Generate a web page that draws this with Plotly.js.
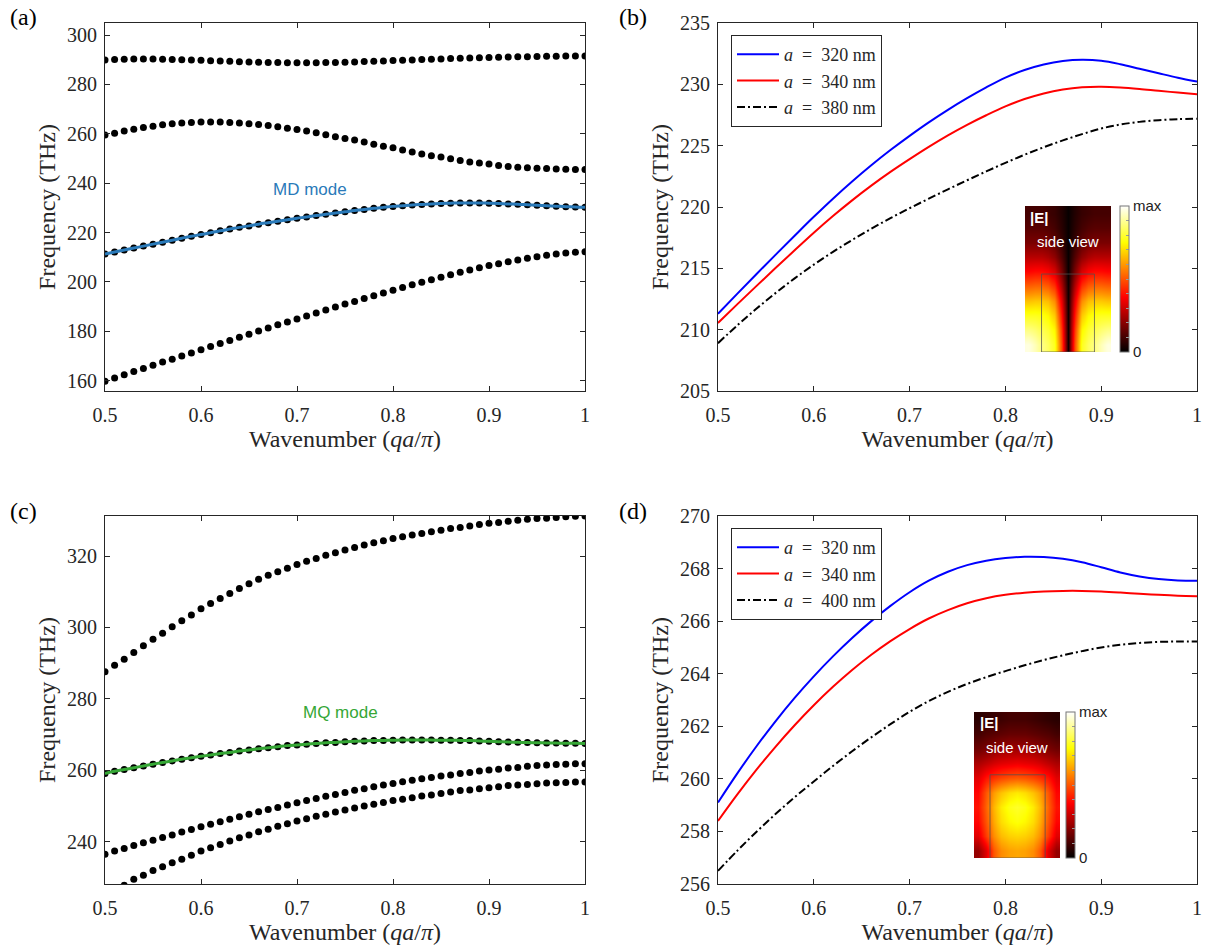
<!DOCTYPE html>
<html>
<head>
<meta charset="utf-8">
<script src="https://cdn.plot.ly/plotly-3.0.1.min.js"></script>
<style>html,body{margin:0;padding:0;background:#fff}#chart{width:1214px;height:948px}</style>
</head>
<body>
<div id="chart"></div>
<script>
// ---------- data ----------
const qx = [0.50,0.51,0.52,0.53,0.54,0.55,0.56,0.57,0.58,0.59,0.60,0.61,0.62,0.63,0.64,0.65,0.66,0.67,0.68,0.69,0.70,0.71,0.72,0.73,0.74,0.75,0.76,0.77,0.78,0.79,0.80,0.81,0.82,0.83,0.84,0.85,0.86,0.87,0.88,0.89,0.90,0.91,0.92,0.93,0.94,0.95,0.96,0.97,0.98,0.99,1.00];

// panel (a) bands
const bandA1 = [289.9,290.1,290.2,290.3,290.3,290.3,290.2,290.1,290.0,289.9,289.8,289.6,289.5,289.4,289.2,289.1,289.0,288.9,288.9,288.8,288.8,288.8,288.8,288.9,288.9,289.0,289.1,289.3,289.4,289.5,289.7,289.8,289.9,290.1,290.2,290.3,290.5,290.6,290.7,290.8,290.9,291.0,291.1,291.2,291.2,291.3,291.4,291.4,291.5,291.5,291.5];
const bandA2 = [259.5,260.2,261.1,261.9,262.6,263.1,263.7,264.1,264.4,264.6,264.8,264.8,264.8,264.6,264.4,264.1,263.8,263.4,262.9,262.3,261.8,261.1,260.4,259.6,258.8,258.1,257.5,256.7,255.8,255.0,254.4,253.4,252.6,251.8,251.1,250.6,249.9,249.2,248.6,248.2,247.8,247.2,246.8,246.5,246.3,246.0,245.9,245.7,245.6,245.5,245.5];
const bandMD = [211.3,212.1,212.9,213.7,214.5,215.3,216.1,216.9,217.7,218.5,219.2,219.9,220.7,221.4,222.1,222.7,223.4,224.0,224.6,225.2,225.8,226.3,226.9,227.4,227.9,228.4,228.9,229.3,229.8,230.2,230.6,230.9,231.2,231.4,231.6,231.8,231.9,232.0,232.0,232.0,231.9,231.8,231.6,231.5,231.3,231.1,230.9,230.7,230.5,230.4,230.2];
const bandA4 = [159.8,161.1,162.4,163.7,164.9,166.2,167.5,168.7,170.0,171.2,172.5,173.8,175.0,176.3,177.6,178.8,180.1,181.3,182.6,183.8,185.0,186.2,187.4,188.6,189.8,191.0,192.1,193.3,194.4,195.5,196.6,197.7,198.8,199.9,200.9,201.9,202.9,203.9,204.8,205.7,206.6,207.4,208.2,208.9,209.6,210.2,210.8,211.3,211.7,212.0,212.2];

// panel (c) bands
const bandC1 = [287.6,289.4,291.1,293.0,294.9,296.7,298.4,300.2,301.9,303.5,305.2,306.7,308.1,309.5,310.9,312.2,313.5,314.6,315.6,316.6,317.6,318.5,319.3,320.2,320.9,321.7,322.4,323.1,323.7,324.3,324.9,325.4,325.9,326.3,326.8,327.2,327.7,328.0,328.4,328.8,329.2,329.4,329.7,330.0,330.3,330.5,330.6,330.8,331.0,331.1,331.2];
const bandMQ = [259.1,259.7,260.2,260.7,261.2,261.7,262.2,262.6,263.1,263.5,263.9,264.3,264.7,265.0,265.4,265.7,266.0,266.3,266.6,266.9,267.1,267.3,267.5,267.7,267.8,268.0,268.1,268.2,268.3,268.35,268.4,268.45,268.45,268.45,268.45,268.4,268.4,268.35,268.3,268.2,268.1,268.0,267.9,267.85,267.75,267.7,267.65,267.6,267.55,267.55,267.5];
const bandC3 = [236.5,237.4,238.1,238.9,239.7,240.4,241.2,241.9,242.7,243.4,244.2,244.9,245.6,246.3,247.0,247.7,248.4,249.0,249.6,250.3,250.9,251.5,252.1,252.7,253.2,253.8,254.4,254.8,255.4,255.9,256.3,256.8,257.2,257.6,258.0,258.4,258.7,259.1,259.4,259.8,260.1,260.3,260.6,260.8,261.1,261.3,261.5,261.6,261.7,261.8,261.8];
const bandC4 = [225.6,226.7,227.8,229.5,230.6,231.9,233.0,234.1,235.1,236.2,237.4,238.3,239.2,240.2,241.1,241.9,242.8,243.5,244.3,245.0,245.8,246.4,247.1,247.7,248.3,248.9,249.4,250.0,250.5,251.0,251.5,251.9,252.3,252.8,253.1,253.5,253.9,254.3,254.5,254.8,255.1,255.4,255.7,255.9,256.0,256.2,256.4,256.5,256.6,256.7,256.7];

// panels (b) and (d): curves for different lattice constants
const sx = [0.50,0.52,0.54,0.56,0.58,0.60,0.62,0.64,0.66,0.68,0.70,0.72,0.74,0.76,0.78,0.80,0.82,0.84,0.86,0.88,0.90,0.92,0.94,0.96,0.98,1.00];
const legendB = ['<i>a</i>\u2002=\u2002320 nm','<i>a</i>\u2002=\u2002340 nm','<i>a</i>\u2002=\u2002380 nm'];
const legendD = ['<i>a</i>\u2002=\u2002320 nm','<i>a</i>\u2002=\u2002340 nm','<i>a</i>\u2002=\u2002400 nm'];
const b320 = [211.30,212.92,214.52,216.10,217.66,219.20,220.68,222.08,223.40,224.64,225.80,226.90,227.92,228.87,229.75,230.55,231.17,231.62,231.90,232.00,231.92,231.64,231.27,230.90,230.54,230.22];
const b340 = [210.55,212.06,213.55,215.02,216.47,217.90,219.26,220.54,221.74,222.86,223.90,224.90,225.84,226.70,227.48,228.20,228.80,229.26,229.58,229.76,229.80,229.74,229.62,229.47,229.33,229.20];
const b380 = [208.90,210.34,211.70,212.98,214.18,215.30,216.34,217.31,218.23,219.09,219.90,220.68,221.44,222.18,222.90,223.60,224.26,224.87,225.43,225.94,226.40,226.72,226.94,227.08,227.16,227.20];
const d320 = [259.10,260.20,261.23,262.19,263.08,263.90,264.66,265.36,266.00,266.58,267.10,267.54,267.88,268.13,268.30,268.40,268.45,268.44,268.37,268.24,268.05,267.85,267.70,267.60,267.55,267.54];
const d340 = [258.40,259.40,260.34,261.22,262.04,262.80,263.50,264.14,264.72,265.24,265.70,266.10,266.42,266.68,266.87,267.00,267.08,267.13,267.15,267.15,267.13,267.09,267.04,267.00,266.97,266.95];
const d400 = [256.50,257.26,257.98,258.66,259.30,259.90,260.49,261.05,261.58,262.08,262.55,262.96,263.31,263.61,263.87,264.10,264.32,264.52,264.70,264.86,265.00,265.10,265.17,265.21,265.225,265.23];

// insets: |E| side-view field maps (normalised 0..1, rows top -> bottom)
const fieldMD = [
 [.10,.10,.10,.09,.08,.05,.01,.05,.08,.09,.10,.10,.10],
 [.13,.13,.13,.12,.10,.06,.01,.06,.10,.12,.13,.13,.13],
 [.18,.18,.18,.17,.14,.08,.01,.08,.14,.17,.18,.18,.18],
 [.27,.27,.27,.25,.21,.12,.01,.12,.21,.25,.27,.27,.27],
 [.38,.39,.39,.37,.32,.18,.01,.18,.32,.37,.39,.39,.38],
 [.52,.53,.53,.51,.45,.26,.02,.26,.45,.51,.53,.53,.52],
 [.66,.67,.67,.65,.58,.34,.02,.34,.58,.65,.67,.67,.66],
 [.78,.78,.77,.74,.67,.40,.02,.40,.67,.74,.77,.78,.78],
 [.88,.86,.83,.80,.74,.45,.02,.45,.74,.80,.83,.86,.88],
 [.97,.93,.88,.84,.78,.48,.02,.48,.78,.84,.88,.93,.97]
];
const fieldMQ = [
 [.06,.07,.08,.09,.10,.10,.10,.09,.08,.07,.06],
 [.10,.12,.13,.14,.15,.15,.15,.14,.13,.12,.10],
 [.16,.18,.20,.22,.23,.23,.23,.22,.20,.18,.16],
 [.25,.28,.31,.33,.34,.35,.34,.33,.31,.28,.25],
 [.33,.40,.44,.47,.49,.50,.49,.47,.44,.40,.33],
 [.38,.50,.60,.66,.70,.72,.70,.66,.60,.50,.38],
 [.40,.52,.64,.72,.77,.79,.77,.72,.64,.52,.40],
 [.38,.50,.62,.70,.74,.76,.74,.70,.62,.50,.38],
 [.33,.46,.58,.65,.68,.69,.68,.65,.58,.46,.33],
 [.22,.33,.50,.58,.61,.62,.61,.58,.50,.33,.22]
];
const cbTicks = [0,0.1,0.2,0.3,0.4,0.5,0.6,0.7,0.8,0.9,1];
const cbText = ['0','','','','','','','','','','max'];

// ---------- styling ----------
const SERIF = 'Liberation Serif, Times New Roman, serif';
const SANS = 'Liberation Sans, Arial, sans-serif';
const AX = '#262626';
const W = 1214, H = 948;
const px = v => v / W;
const py = v => (H - v) / H;
const hot = [[0,'#000000'],[0.375,'#ff0000'],[0.75,'#ffff00'],[1,'#ffffff']];
const mdBlue = '#2a7ab9', mqGreen = '#36a736';

function dots(y, xa, ya) {
  return {x: qx, y: y, xaxis: xa, yaxis: ya, type: 'scatter', mode: 'markers',
    marker: {color: '#000', size: 7}, showlegend: false, hoverinfo: 'skip'};
}
function curve(y, name, color, dash, xa, ya, leg) {
  return {x: sx, y: y, xaxis: xa, yaxis: ya, type: 'scatter', mode: 'lines', name: name,
    line: {color: color, width: 2, dash: dash, shape: 'spline'}, legend: leg};
}
function modeLine(y, color, xa, ya) {
  return {x: qx, y: y, xaxis: xa, yaxis: ya, mode: 'lines', line: {color: color, width: 3, shape: 'spline'},
    showlegend: false, hoverinfo: 'skip'};
}

const traces = [
  dots(bandA1, 'x', 'y'), dots(bandA2, 'x', 'y'), dots(bandMD, 'x', 'y'), dots(bandA4, 'x', 'y'),
  modeLine(bandMD, mdBlue, 'x', 'y'),
  curve(b320, legendB[0], '#0000ff', 'solid', 'x2', 'y2', 'legend'),
  curve(b340, legendB[1], '#ff0000', 'solid', 'x2', 'y2', 'legend'),
  curve(b380, legendB[2], '#000000', '8px,3px,2px,3px', 'x2', 'y2', 'legend'),
  dots(bandC1, 'x5', 'y5'), dots(bandMQ, 'x5', 'y5'), dots(bandC3, 'x5', 'y5'), dots(bandC4, 'x5', 'y5'),
  modeLine(bandMQ, mqGreen, 'x5', 'y5'),
  curve(d320, legendD[0], '#0000ff', 'solid', 'x6', 'y6', 'legend2'),
  curve(d340, legendD[1], '#ff0000', 'solid', 'x6', 'y6', 'legend2'),
  curve(d400, legendD[2], '#000000', '8px,3px,2px,3px', 'x6', 'y6', 'legend2'),
  {z: fieldMD, type: 'heatmap', xaxis: 'x3', yaxis: 'y3', zmin: 0, zmax: 1, zsmooth: 'best', colorscale: hot,
   hoverinfo: 'skip', showlegend: false,
   colorbar: {x: px(1120), xanchor: 'left', xpad: 0, y: py(206), yanchor: 'top', ypad: 0,
     len: 146, lenmode: 'pixels', thickness: 9, thicknessmode: 'pixels',
     outlinewidth: 1, outlinecolor: '#777', tickvals: cbTicks, ticktext: cbText,
     ticks: 'inside', ticklen: 3, tickcolor: '#999', tickfont: {family: SANS, size: 15, color: '#222'}}},
  {z: fieldMQ, type: 'heatmap', xaxis: 'x4', yaxis: 'y4', zmin: 0, zmax: 1, zsmooth: 'best', colorscale: hot,
   hoverinfo: 'skip', showlegend: false,
   colorbar: {x: px(1066), xanchor: 'left', xpad: 0, y: py(712), yanchor: 'top', ypad: 0,
     len: 146, lenmode: 'pixels', thickness: 9, thicknessmode: 'pixels',
     outlinewidth: 1, outlinecolor: '#777', tickvals: cbTicks, ticktext: cbText,
     ticks: 'inside', ticklen: 3, tickcolor: '#999', tickfont: {family: SANS, size: 15, color: '#222'}}}
];

function xAxis(domain, anchor) {
  return {domain: domain, anchor: anchor, range: [0.5, 1], dtick: 0.1, tick0: 0.5,
    showgrid: false, zeroline: false, showline: true, mirror: 'ticks', ticks: 'inside', ticklen: 5,
    tickcolor: AX, linecolor: AX, linewidth: 1, ticklabelstandoff: 6,
    tickfont: {family: SERIF, size: 20, color: AX},
    title: {text: 'Wavenumber (<i>qa</i>/<i>π</i>)', font: {family: SERIF, size: 24, color: AX}, standoff: 4}};
}
function yAxis(domain, anchor, range, dtick) {
  return {domain: domain, anchor: anchor, range: range, dtick: dtick,
    showgrid: false, zeroline: false, showline: true, mirror: 'ticks', ticks: 'inside', ticklen: 5,
    tickcolor: AX, linecolor: AX, linewidth: 1, ticklabelstandoff: 3,
    tickfont: {family: SERIF, size: 20, color: AX},
    title: {text: 'Frequency (THz)', font: {family: SERIF, size: 24, color: AX}, standoff: 4}};
}
const hidden = (domain, anchor, range) => ({domain: domain, anchor: anchor, range: range, visible: false, fixedrange: true});

const LX = [px(105), px(585)], RX = [px(718), px(1197)];
const TY = [py(391), py(23)], BY = [py(884), py(516)];

const legendStyle = y => ({x: px(731), xanchor: 'left', y: y, yanchor: 'top', xref: 'paper', yref: 'paper',
  bgcolor: '#fff', bordercolor: AX, borderwidth: 1, itemwidth: 42,
  font: {family: SERIF, size: 18, color: AX}, tracegroupgap: 0});

const panelLabel = (t, x, y) => ({text: t, xref: 'paper', yref: 'paper', x: px(x), y: py(y),
  xanchor: 'center', yanchor: 'middle', showarrow: false, font: {family: SERIF, size: 24, color: '#000'}});

const layout = {
  width: W, height: H, margin: {l: 0, r: 0, t: 0, b: 0},
  paper_bgcolor: '#fff', plot_bgcolor: 'rgba(0,0,0,0)',
  showlegend: true,
  xaxis: xAxis(LX, 'y'), yaxis: yAxis(TY, 'x', [155.8, 304.9], 20),
  xaxis2: xAxis(RX, 'y2'), yaxis2: yAxis(TY, 'x2', [205, 235], 5),
  xaxis5: xAxis(LX, 'y5'), yaxis5: yAxis(BY, 'x5', [228.15, 331.2], 20),
  xaxis6: xAxis(RX, 'y6'), yaxis6: yAxis(BY, 'x6', [256, 270], 2),
  xaxis3: hidden([px(1025), px(1111)], 'y3', [-0.5, 12.5]),
  yaxis3: hidden([py(352), py(206)], 'x3', [9.5, -0.5]),
  xaxis4: hidden([px(974), px(1060)], 'y4', [-0.5, 10.5]),
  yaxis4: hidden([py(858), py(712)], 'x4', [9.5, -0.5]),
  legend: legendStyle(py(35)),
  legend2: legendStyle(py(528)),
  shapes: [
    {type: 'rect', xref: 'x3', yref: 'y3', x0: 2.0, x1: 10.0, y0: 4.16, y1: 9.5, line: {color: 'rgba(80,80,80,0.75)', width: 1}},
    {type: 'rect', xref: 'x4', yref: 'y4', x0: 1.55, x1: 8.6, y0: 3.8, y1: 9.5, line: {color: 'rgba(80,80,80,0.75)', width: 1}}
  ],
  annotations: [
    panelLabel('(a)', 23, 17), panelLabel('(b)', 633, 17),
    panelLabel('(c)', 23, 511), panelLabel('(d)', 633, 511),
    {text: 'MD mode', xref: 'x', yref: 'y', x: 0.7135, y: 237.4, showarrow: false, font: {family: SANS, size: 17, color: mdBlue}},
    {text: 'MQ mode', xref: 'x5', yref: 'y5', x: 0.745, y: 276.2, showarrow: false, font: {family: SANS, size: 17, color: mqGreen}},
    {text: '<b>|E|</b>', xref: 'x3 domain', yref: 'y3 domain', x: 0.04, y: 0.92, xanchor: 'left', yanchor: 'middle', showarrow: false, font: {family: SANS, size: 15, color: '#fff'}},
    {text: 'side view', xref: 'x3 domain', yref: 'y3 domain', x: 0.5, y: 0.76, xanchor: 'center', yanchor: 'middle', showarrow: false, font: {family: SANS, size: 15, color: '#fff'}},
    {text: '<b>|E|</b>', xref: 'x4 domain', yref: 'y4 domain', x: 0.05, y: 0.925, xanchor: 'left', yanchor: 'middle', showarrow: false, font: {family: SANS, size: 15, color: '#fff'}},
    {text: 'side view', xref: 'x4 domain', yref: 'y4 domain', x: 0.5, y: 0.76, xanchor: 'center', yanchor: 'middle', showarrow: false, font: {family: SANS, size: 15, color: '#fff'}}
  ]
};

Plotly.newPlot('chart', traces, layout, {displayModeBar: false, staticPlot: true});
</script>
</body>
</html>
